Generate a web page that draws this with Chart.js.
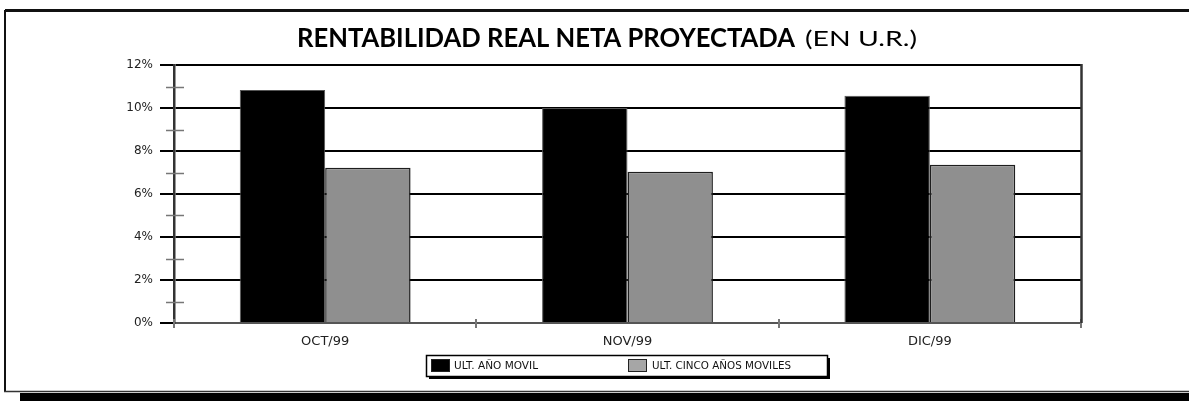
<!DOCTYPE html>
<html>
<head>
<meta charset="utf-8">
<script src="https://cdn.jsdelivr.net/npm/chart.js@4.4.1/dist/chart.umd.min.js"></script>
<style>
  html, body { margin: 0; padding: 0; background: #fff; }
  #c { position: absolute; left: 0; top: 0; }
</style>
</head>
<body>
<canvas id="c" width="1189" height="401"></canvas>
<script>
const categories = ['OCT/99', 'NOV/99', 'DIC/99'];
const seriesLabels = ['ULT. AÑO MOVIL', 'ULT. CINCO AÑOS MOVILES'];
const ultAnoMovil = [10.84, 10.0, 10.57];
const ultCincoAnos = [7.22, 7.04, 7.36];
const yTicks = [0, 2, 4, 6, 8, 10, 12];
const minorTicks = [1, 3, 5, 7, 9, 11];
const titleBold = 'RENTABILIDAD REAL NETA PROYECTADA';
const titleNormal = '(EN U.R.)';

function fitText(ctx, text, x, y, targetW) {
  const w = ctx.measureText(text).width;
  const s = targetW / w;
  ctx.save();
  ctx.translate(x, y);
  ctx.scale(s, 1);
  ctx.fillText(text, 0, 0);
  ctx.restore();
}

const decor = {
  id: 'decor',
  beforeDraw(chart) {
    const ctx = chart.ctx;
    ctx.save();
    ctx.fillStyle = '#fff';
    ctx.fillRect(0, 0, chart.width, chart.height);
    // frame
    ctx.strokeStyle = '#111';
    ctx.lineWidth = 3;
    ctx.beginPath();
    ctx.moveTo(5, 10.5); ctx.lineTo(1189, 10.5);
    ctx.stroke();
    ctx.lineWidth = 2;
    ctx.beginPath();
    ctx.moveTo(5, 10); ctx.lineTo(5, 392);
    ctx.stroke();
    ctx.lineWidth = 1.5;
    ctx.strokeStyle = '#333';
    ctx.beginPath();
    ctx.moveTo(4, 391.5); ctx.lineTo(1189, 391.5);
    ctx.stroke();
    ctx.fillStyle = '#000';
    ctx.fillRect(20, 393, 1169, 8);
    // title
    ctx.fillStyle = '#000';
    ctx.textBaseline = 'alphabetic';
    ctx.textAlign = 'left';
    ctx.font = 'bold 26px Lato';
    fitText(ctx, titleBold, 297, 47, 498);
    ctx.font = '22px Lato';
    fitText(ctx, titleNormal, 805, 46, 112);
    ctx.restore();
  },
  afterDraw(chart) {
    const ctx = chart.ctx;
    const ys = chart.scales.y, xs = chart.scales.x;
    const area = chart.chartArea;
    ctx.save();
    // minor ticks on y axis
    ctx.strokeStyle = '#777';
    ctx.lineWidth = 1.5;
    minorTicks.forEach(v => {
      const py = Math.round(ys.getPixelForValue(v)) + 0.5;
      ctx.beginPath();
      ctx.moveTo(area.left - 8, py); ctx.lineTo(area.left + 10, py);
      ctx.stroke();
    });
    // x category boundary ticks
    const n = categories.length;
    const cw = (area.right - area.left) / n;
    ctx.strokeStyle = '#777';
    ctx.lineWidth = 2;
    for (let i = 0; i <= n; i++) {
      const px = Math.round(xs.getPixelForValue(0) - cw / 2 + i * cw);
      ctx.beginPath();
      ctx.moveTo(px, area.bottom - 4); ctx.lineTo(px, area.bottom + 5);
      ctx.stroke();
    }
    // right border
    ctx.strokeStyle = '#333';
    ctx.lineWidth = 2.5;
    ctx.beginPath();
    ctx.moveTo(area.right + 0.5, area.top - 1); ctx.lineTo(area.right + 0.5, area.bottom);
    ctx.stroke();
    // legend
    const lx = 426, ly = 355, lw = 401, lh = 21;
    ctx.fillStyle = '#000';
    ctx.fillRect(lx + 3, ly + 3, lw, lh);
    ctx.fillStyle = '#fff';
    ctx.fillRect(lx, ly, lw, lh);
    ctx.strokeStyle = '#000';
    ctx.lineWidth = 1.5;
    ctx.strokeRect(lx + 0.5, ly + 0.5, lw, lh);
    const items = [
      {x: 431, color: '#000', tx: 454, tw: 84},
      {x: 628, color: '#a6a6a6', tx: 652, tw: 139}
    ];
    ctx.font = '10.5px "DejaVu Sans"';
    ctx.textBaseline = 'middle';
    items.forEach((it, i) => {
      ctx.fillStyle = it.color;
      ctx.fillRect(it.x, 359, 18, 12);
      ctx.strokeStyle = '#222';
      ctx.lineWidth = 1;
      ctx.strokeRect(it.x + 0.5, 359.5, 18, 12);
      ctx.fillStyle = '#111';
      fitText(ctx, seriesLabels[i], it.tx, 366, it.tw);
    });
    ctx.restore();
  }
};

new Chart(document.getElementById('c'), {
  type: 'bar',
  data: {
    labels: categories,
    datasets: [
      { label: seriesLabels[0], data: ultAnoMovil, backgroundColor: '#000', borderColor: '#555', borderWidth: 1 },
      { label: seriesLabels[1], data: ultCincoAnos, backgroundColor: '#8f8f8f', borderColor: '#1e1e1e', borderWidth: 1.5 }
    ]
  },
  options: {
    responsive: false,
    devicePixelRatio: 1,
    animation: false,
    layout: { padding: { top: 65, right: 108, bottom: 0, left: 0 } },
    plugins: { legend: { display: false }, title: { display: false }, tooltip: { enabled: false } },
    datasets: { bar: { categoryPercentage: 0.565, barPercentage: 1 } },
    scales: {
      x: {
        afterFit(s) { s.height = 78; },
        grid: { display: false, offset: true },
        border: { display: true, color: '#555', width: 2 },
        ticks: { color: '#222', font: { family: 'DejaVu Sans', size: 13 }, padding: 3 }
      },
      y: {
        min: 0, max: 12,
        afterFit(s) { s.width = 174; },
        afterBuildTicks(s) { s.ticks = yTicks.map(v => ({ value: v })); },
        grid: { color: '#000', lineWidth: 2, tickLength: 14, tickColor: '#000' },
        border: { display: true, color: '#333', width: 2.5 },
        ticks: { color: '#222', font: { family: 'DejaVu Sans', size: 12 }, padding: 7, callback: v => v + '%' }
      }
    }
  },
  plugins: [decor]
});
</script>
</body>
</html>
